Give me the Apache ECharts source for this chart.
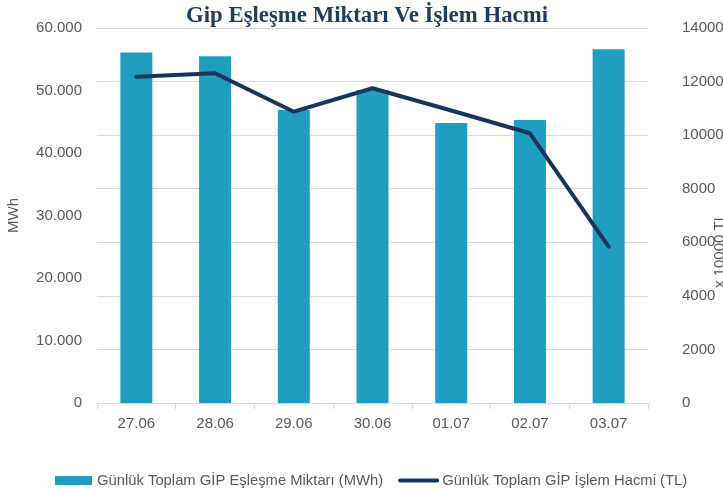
<!DOCTYPE html>
<html>
<head>
<meta charset="utf-8">
<script src="https://cdn.jsdelivr.net/npm/echarts@6/dist/echarts.min.js"></script>
<style>
  html, body { margin: 0; padding: 0; background: #fff; }
  #chart { width: 723px; height: 492px; }
</style>
</head>
<body>
<div id="chart"></div>
<script>
// kategoriler (gün)
var days = ['27.06', '28.06', '29.06', '30.06', '01.07', '02.07', '03.07'];
// Günlük toplam GİP eşleşme miktarı (MWh)
var matchVolume = [56100, 55500, 46900, 50100, 44800, 45300, 56600];
// Günlük toplam GİP işlem hacmi (x 10000 TL)
var tradeVolume = [12180, 12310, 10875, 11750, 10920, 10070, 5835];

var barName = 'Günlük Toplam GİP Eşleşme Miktarı (MWh)';
var lineName = 'Günlük Toplam GİP İşlem Hacmi (TL)';

var textColor = '#595959';
var fontFamily = 'Liberation Sans';

var chart = echarts.init(document.getElementById('chart'));

var option = {
  backgroundColor: '#fff',
  animation: false,
  title: {
    text: 'Gip Eşleşme Miktarı Ve İşlem Hacmi',
    left: 181,
    top: 0,
    textStyle: {
      fontFamily: 'Liberation Serif',
      fontWeight: 'bold',
      fontSize: 22.8,
      color: '#1F3B5E'
    }
  },
  legend: {
    left: 50,
    top: 468,
    itemGap: 15,
    itemWidth: 37,
    itemHeight: 9,
    textStyle: { color: textColor, fontFamily: fontFamily, fontSize: 14.8 },
    data: [
      { name: barName, icon: 'rect' },
      { name: lineName, itemStyle: { opacity: 0 }, lineStyle: { width: 4 } }
    ]
  },
  grid: {
    left: 97,
    right: 75,
    top: 28,
    bottom: 89,
    outerBoundsMode: 'none'
  },
  xAxis: {
    type: 'category',
    data: days,
    axisLine: { lineStyle: { color: '#D9D9D9', width: 1 } },
    axisTick: { show: true, length: 6, lineStyle: { color: '#D9D9D9' } },
    axisLabel: { color: textColor, fontFamily: fontFamily, fontSize: 15, margin: 13 }
  },
  yAxis: [
    {
      type: 'value',
      min: 0,
      max: 60000,
      interval: 10000,
      name: 'MWh',
      nameLocation: 'middle',
      nameRotate: 90,
      nameGap: 76,
      nameMoveOverlap: false,
      nameTextStyle: { color: textColor, fontFamily: fontFamily, fontSize: 15 },
      splitLine: { show: false },
      axisLine: { show: false },
      axisTick: { show: false },
      axisLabel: {
        color: textColor,
        fontFamily: fontFamily,
        fontSize: 15,
        margin: 15,
        formatter: function (v) {
          return String(v).replace(/\B(?=(\d{3})+(?!\d))/g, '.');
        }
      }
    },
    {
      type: 'value',
      min: 0,
      max: 14000,
      interval: 2000,
      position: 'right',
      name: 'x 10000 TL',
      nameLocation: 'middle',
      nameRotate: 90,
      nameGap: 64,
      nameMoveOverlap: false,
      nameTextStyle: {
        color: textColor,
        fontFamily: fontFamily,
        fontSize: 15,
        padding: [0, 70, 0, 0]
      },
      splitLine: { show: true, lineStyle: { color: '#D9D9D9', width: 1 } },
      axisLine: { show: false },
      axisTick: { show: false },
      axisLabel: {
        color: textColor,
        fontFamily: fontFamily,
        fontSize: 15,
        margin: 34,
        formatter: function (v) { return String(v); }
      }
    }
  ],
  series: [
    {
      name: barName,
      type: 'bar',
      yAxisIndex: 0,
      data: matchVolume,
      barWidth: 32,
      itemStyle: { color: '#1F9EC0' }
    },
    {
      name: lineName,
      type: 'line',
      yAxisIndex: 1,
      data: tradeVolume,
      symbol: 'none',
      lineStyle: { color: '#17365D', width: 4, cap: 'round', join: 'round' },
      itemStyle: { color: '#17365D' }
    }
  ]
};

chart.setOption(option);
</script>
</body>
</html>
